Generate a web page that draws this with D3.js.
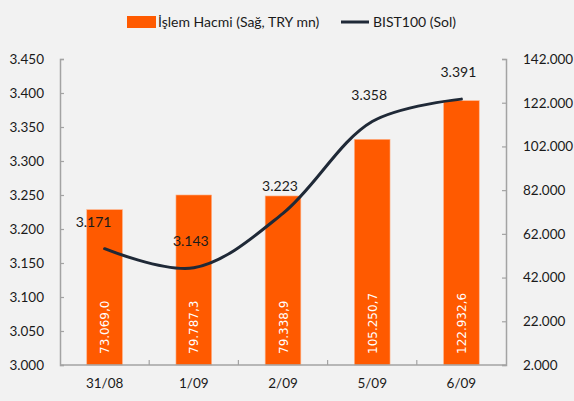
<!DOCTYPE html>
<html>
<head>
<meta charset="utf-8">
<script src="https://cdn.jsdelivr.net/npm/d3@7"></script>
<style>
  html, body { margin: 0; padding: 0; background: #f2f2f2; }
  svg text { font-family: Lato, "Open Sans", sans-serif; fill: #1a1a1a; }
  .bar_label { font-family: "DejaVu Sans", sans-serif; fill: #ffffff; }
</style>
</head>
<body>
<div id="chart"></div>
<script>
var categories = ["31/08", "1/09", "2/09", "5/09", "6/09"];
var volume = [73069.0, 79787.3, 79338.9, 105250.7, 122932.6];   // İşlem Hacmi (Sağ, TRY mn)
var bist100 = [3171, 3143, 3223, 3358, 3391];                    // BIST100 (Sol)
var left_ticks = [3000, 3050, 3100, 3150, 3200, 3250, 3300, 3350, 3400, 3450];
var right_ticks = [2000, 22000, 42000, 62000, 82000, 102000, 122000, 142000];

var width = 574, height = 401;
var margin = {left: 60, right: 68, top: 59, bottom: 36};

var tr = d3.formatLocale({decimal: ",", thousands: ".", grouping: [3], currency: ["", ""]});
var fmt_int = tr.format(",.0f");
var fmt_one = tr.format(",.1f");

var svg = d3.select("#chart").append("svg")
	.attr("width", width)
	.attr("height", height);

svg.append("rect")
	.attr("width", width)
	.attr("height", height)
	.attr("fill", "#f2f2f2");

var x_scale = d3.scaleBand()
	.domain(categories)
	.range([margin.left, width - margin.right])
	.paddingInner(0.6)
	.paddingOuter(0.3);

var y_left = d3.scaleLinear()
	.domain([3000, 3450])
	.range([height - margin.bottom, margin.top]);

var y_right = d3.scaleLinear()
	.domain([2000, 142000])
	.range([height - margin.bottom, margin.top]);

var axis_color = "#a3a3a3";

// bars
svg.append("g").attr("class", "bars")
	.selectAll("rect")
	.data(volume)
	.enter()
	.append("rect")
	.attr("x", function(d, i) { return x_scale(categories[i]); })
	.attr("y", function(d) { return y_right(d); })
	.attr("width", x_scale.bandwidth())
	.attr("height", function(d) { return y_right(2000) - y_right(d); })
	.attr("fill", "#ff5a00")
	.attr("stroke", "#ffb58c")
	.attr("stroke-width", 0.6);

// bar labels, rotated inside the bars
svg.append("g")
	.selectAll("text")
	.data(volume)
	.enter()
	.append("text")
	.attr("class", "bar_label")
	.attr("transform", function(d, i) {
		var cx = x_scale(categories[i]) + x_scale.bandwidth() / 2;
		return "translate(" + (cx + 4.5) + "," + (height - margin.bottom - 11) + ") rotate(-90)";
	})
	.attr("font-size", "12px")
	.text(function(d) { return fmt_one(d); });

// left axis
var left_axis = d3.axisLeft(y_left)
	.tickValues(left_ticks)
	.tickSize(-4)
	.tickPadding(16)
	.tickFormat(fmt_int);
var gl = svg.append("g")
	.attr("transform", "translate(" + margin.left + ",0)")
	.call(left_axis);

// right axis
var right_axis = d3.axisRight(y_right)
	.tickValues(right_ticks)
	.tickSize(-4)
	.tickPadding(17)
	.tickFormat(fmt_int);
var gr = svg.append("g")
	.attr("transform", "translate(" + (width - margin.right) + ",0)")
	.call(right_axis);

[gl, gr].forEach(function(g) {
	g.select(".domain").attr("stroke", axis_color).attr("stroke-width", 1.5);
	g.selectAll(".tick line").attr("stroke", axis_color).attr("stroke-width", 1.2);
	g.selectAll(".tick text").attr("font-size", "13.5px").attr("fill", "#1a1a1a");
});

// bottom axis line with ticks between categories
var base_y = height - margin.bottom;
svg.append("line")
	.attr("x1", margin.left)
	.attr("x2", width - margin.right)
	.attr("y1", base_y)
	.attr("y2", base_y)
	.attr("stroke", axis_color)
	.attr("stroke-width", 1.5);

var step = x_scale.step();
svg.append("g")
	.selectAll("line")
	.data(categories.slice(1))
	.enter()
	.append("line")
	.attr("x1", function(d) { return x_scale(d) - step * 0.3; })
	.attr("x2", function(d) { return x_scale(d) - step * 0.3; })
	.attr("y1", base_y)
	.attr("y2", base_y - 5)
	.attr("stroke", axis_color)
	.attr("stroke-width", 1.2);

svg.append("g")
	.selectAll("text")
	.data(categories)
	.enter()
	.append("text")
	.attr("x", function(d) { return x_scale(d) + x_scale.bandwidth() / 2; })
	.attr("y", base_y + 23)
	.attr("text-anchor", "middle")
	.attr("font-size", "13.5px")
	.text(function(d) { return d; });

// BIST100 line
var line = d3.line()
	.x(function(d, i) { return x_scale(categories[i]) + x_scale.bandwidth() / 2; })
	.y(function(d) { return y_left(d); })
	.curve(d3.curveCatmullRom.alpha(0.5));

svg.append("path")
	.datum(bist100)
	.attr("d", line)
	.attr("fill", "none")
	.attr("stroke", "#1f2937")
	.attr("stroke-width", 3)
	.attr("stroke-linecap", "round");

svg.append("g")
	.selectAll("text")
	.data(bist100)
	.enter()
	.append("text")
	.attr("x", function(d, i) { return x_scale(categories[i]) + x_scale.bandwidth() / 2 - (i == 0 ? 11 : 3); })
	.attr("y", function(d) { return y_left(d) - 22; })
	.attr("text-anchor", "middle")
	.attr("font-size", "14px")
	.text(function(d) { return fmt_int(d); });

// legend
var legend = svg.append("g").attr("class", "legend");
legend.append("rect")
	.attr("x", 127)
	.attr("y", 16)
	.attr("width", 29)
	.attr("height", 12)
	.attr("fill", "#ff5a00");
legend.append("text")
	.attr("x", 158)
	.attr("y", 27)
	.attr("font-size", "14px")
	.text("İşlem Hacmi (Sağ, TRY mn)");
legend.append("line")
	.attr("x1", 341)
	.attr("x2", 369)
	.attr("y1", 22)
	.attr("y2", 22)
	.attr("stroke", "#1f2937")
	.attr("stroke-width", 3);
legend.append("text")
	.attr("x", 373)
	.attr("y", 27)
	.attr("font-size", "14px")
	.text("BIST100 (Sol)");
</script>
</body>
</html>
